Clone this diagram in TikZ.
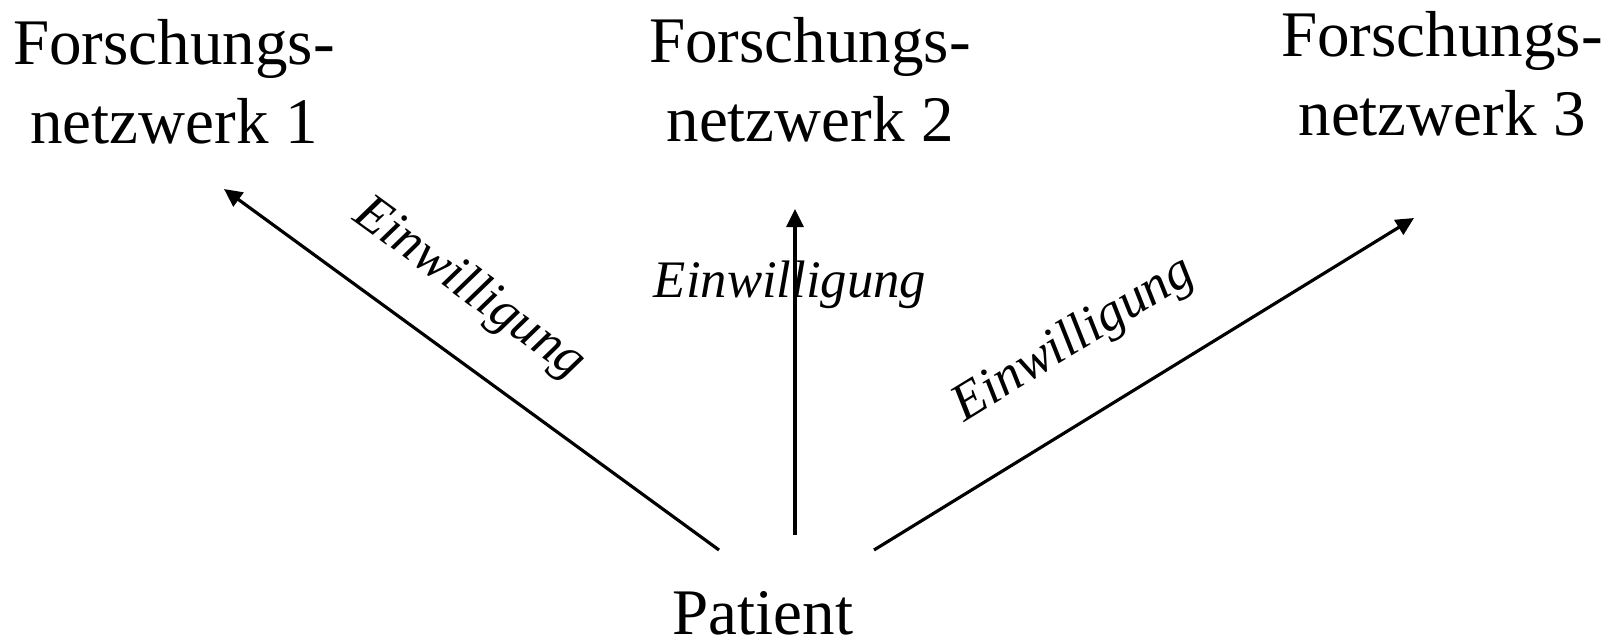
\documentclass[tikz,border=0pt]{standalone}
\usepackage{fontspec}
\setmainfont{Liberation Serif}
\usetikzlibrary{arrows.meta,positioning}

\tikzset{
  netz/.style={align=center, inner sep=0pt, font=\fontsize{18.5}{22.5}\selectfont},
  consent/.style={inner sep=0pt, font=\fontsize{15}{18}\selectfont\itshape},
  flow/.style={line width=0.9pt, -{Triangle[length=0.18cm, width=0.17cm]}}
}

\begin{document}
\begin{tikzpicture}
  \useasboundingbox (0,0) rectangle (16.17,6.4);
  % targets and source
  \node[netz] (net1) at (1.74,5.58) {Forschungs-\\netzwerk 1};
  \node[netz] (net2) at (8.10,5.60) {Forschungs-\\netzwerk 2};
  \node[netz] (net3) at (14.42,5.66) {Forschungs-\\netzwerk 3};
  \node[netz, anchor=base] (patient) at (7.63,0.06) {Patient};

  % arrow ends
  \coordinate (src1) at (7.19,0.90);
  \coordinate (src2) at (7.95,1.05);
  \coordinate (src3) at (8.74,0.90);
  \coordinate (tip1) at (2.24,4.51);
  \coordinate (tip2) at (7.95,4.31);
  \coordinate (tip3) at (14.14,4.22);

  \draw[flow] (src1) -- (tip1);
  \draw[flow] (src2) -- (tip2);
  \draw[flow] (src3) -- (tip3);

  \node[consent, rotate=-36] (ok1) at (4.69,3.51) {Einwilligung};
  \node[consent] (ok2) at (7.90,3.55) {Einwilligung};
  \node[consent, rotate=31.6] (ok3) at (10.74,3.00) {Einwilligung};
\end{tikzpicture}
\end{document}
